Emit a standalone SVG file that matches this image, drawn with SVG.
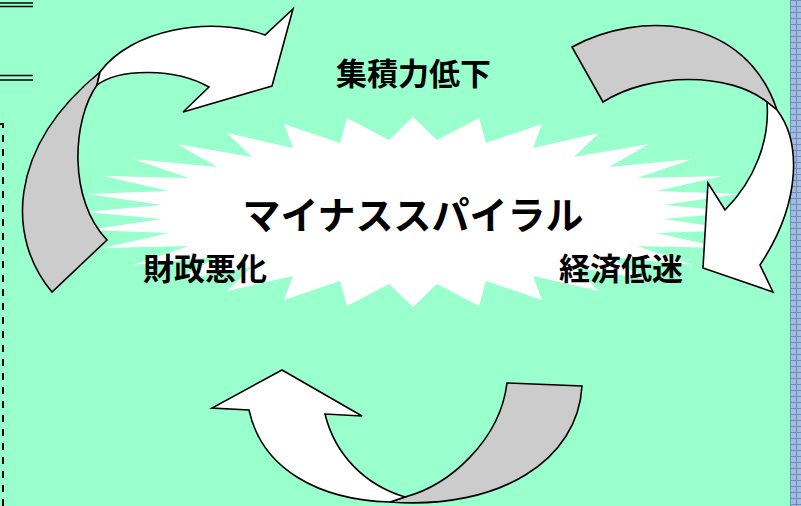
<svg xmlns="http://www.w3.org/2000/svg" width="801" height="506" viewBox="0 0 801 506">
<defs>
<style>
.bg{fill:#99FFCC}
.arrow{stroke:#000;stroke-width:1.6;stroke-linejoin:miter}
.front{fill:#FFFFFF}
.back{fill:#CCCCCC}
.lbl{font-family:"Noto Sans CJK JP","Noto Sans CJK SC",sans-serif;fill:#000}
</style>
<pattern id="grid" x="790" y="0" width="6" height="6" patternUnits="userSpaceOnUse">
<rect width="6" height="6" fill="#A7BCDD"/>
<path d="M0 0.5H6M0.5 0V6" stroke="#6A8CC4" stroke-width="1"/>
</pattern>
</defs>
<rect class="bg" x="0" y="0" width="801" height="506"/>
<rect x="790" y="0" width="11" height="506" fill="url(#grid)"/>
<g id="frame-lines" stroke="#000">
<line x1="0" y1="3" x2="33" y2="3" stroke-width="1.5"/>
<line x1="0" y1="6.5" x2="33" y2="6.5" stroke-width="1.5"/>
<line x1="0" y1="75.5" x2="33" y2="75.5" stroke-width="1.5"/>
<line x1="0" y1="80" x2="33" y2="80" stroke-width="1.5"/>
<path d="M0 124H3V506" fill="none" stroke-width="2" stroke-dasharray="7 7"/>
</g>
<g id="starburst">
<polygon fill="#FFFFFF" points="413,117 437,140 479,118 486,143 542,124 533,148 599,133 574,157 649,144 609,167 693,159 637,178 723,176 657,191 738,194 664,205 742,212 664,219 738,230 657,233 723,248 637,246 693,265 609,257 649,280 574,267 599,291 533,276 542,300 486,281 479,306 437,284 413,307 389,284 347,306 340,281 284,300 293,276 227,291 252,267 177,280 217,257 133,265 189,246 103,248 169,233 88,230 162,219 84,212 162,205 88,194 169,191 103,176 189,178 133,159 217,167 177,144 252,157 227,133 293,148 284,124 340,143 347,118 389,140"/>
<text class="lbl" x="413" y="229" text-anchor="middle" font-size="38" font-weight="700">マイナススパイラル</text>
</g>
<g id="connectors">
<g id="arrow-top-left">
<path class="arrow back" d="M52,292 C8,240 5,150 100,72 L97,85 C72,120 68,200 107,240 Z"/>
<path class="arrow front" d="M100,72 C130,30 210,15 265,35 L293,9 L272,86 L183,112 L209,87 C175,68 120,68 97,85 Z"/>
</g>
<g id="arrow-right">
<path class="arrow back" d="M572,47 C640,10 745,15 777,110 L767,102 C730,72 650,72 603,102 Z"/>
<path class="arrow front" d="M777,110 C800,140 803,200 760,265 L773,292 L703,268 L708,183 L725,210 C755,180 770,140 767,102 Z"/>
</g>
<g id="arrow-bottom">
<path class="arrow back" d="M405,497 C450,485 500,440 507,383 L582,386 C578,460 500,510 390,502 Z"/>
<path class="arrow front" d="M390,502 C320,500 262,470 249,410 L212,408 L282,370 L362,416 L325,414 C335,455 365,485 405,497 Z"/>
</g>
</g>
<g id="label-shuseki">
<text class="lbl" x="336" y="85" font-size="31" font-weight="700">集積力低下</text>
</g>
<g id="label-zaisei">
<text class="lbl" x="143" y="280" font-size="31" font-weight="700">財政悪化</text>
</g>
<g id="label-keizai">
<text class="lbl" x="559" y="280" font-size="31" font-weight="700">経済低迷</text>
</g>
</svg>
